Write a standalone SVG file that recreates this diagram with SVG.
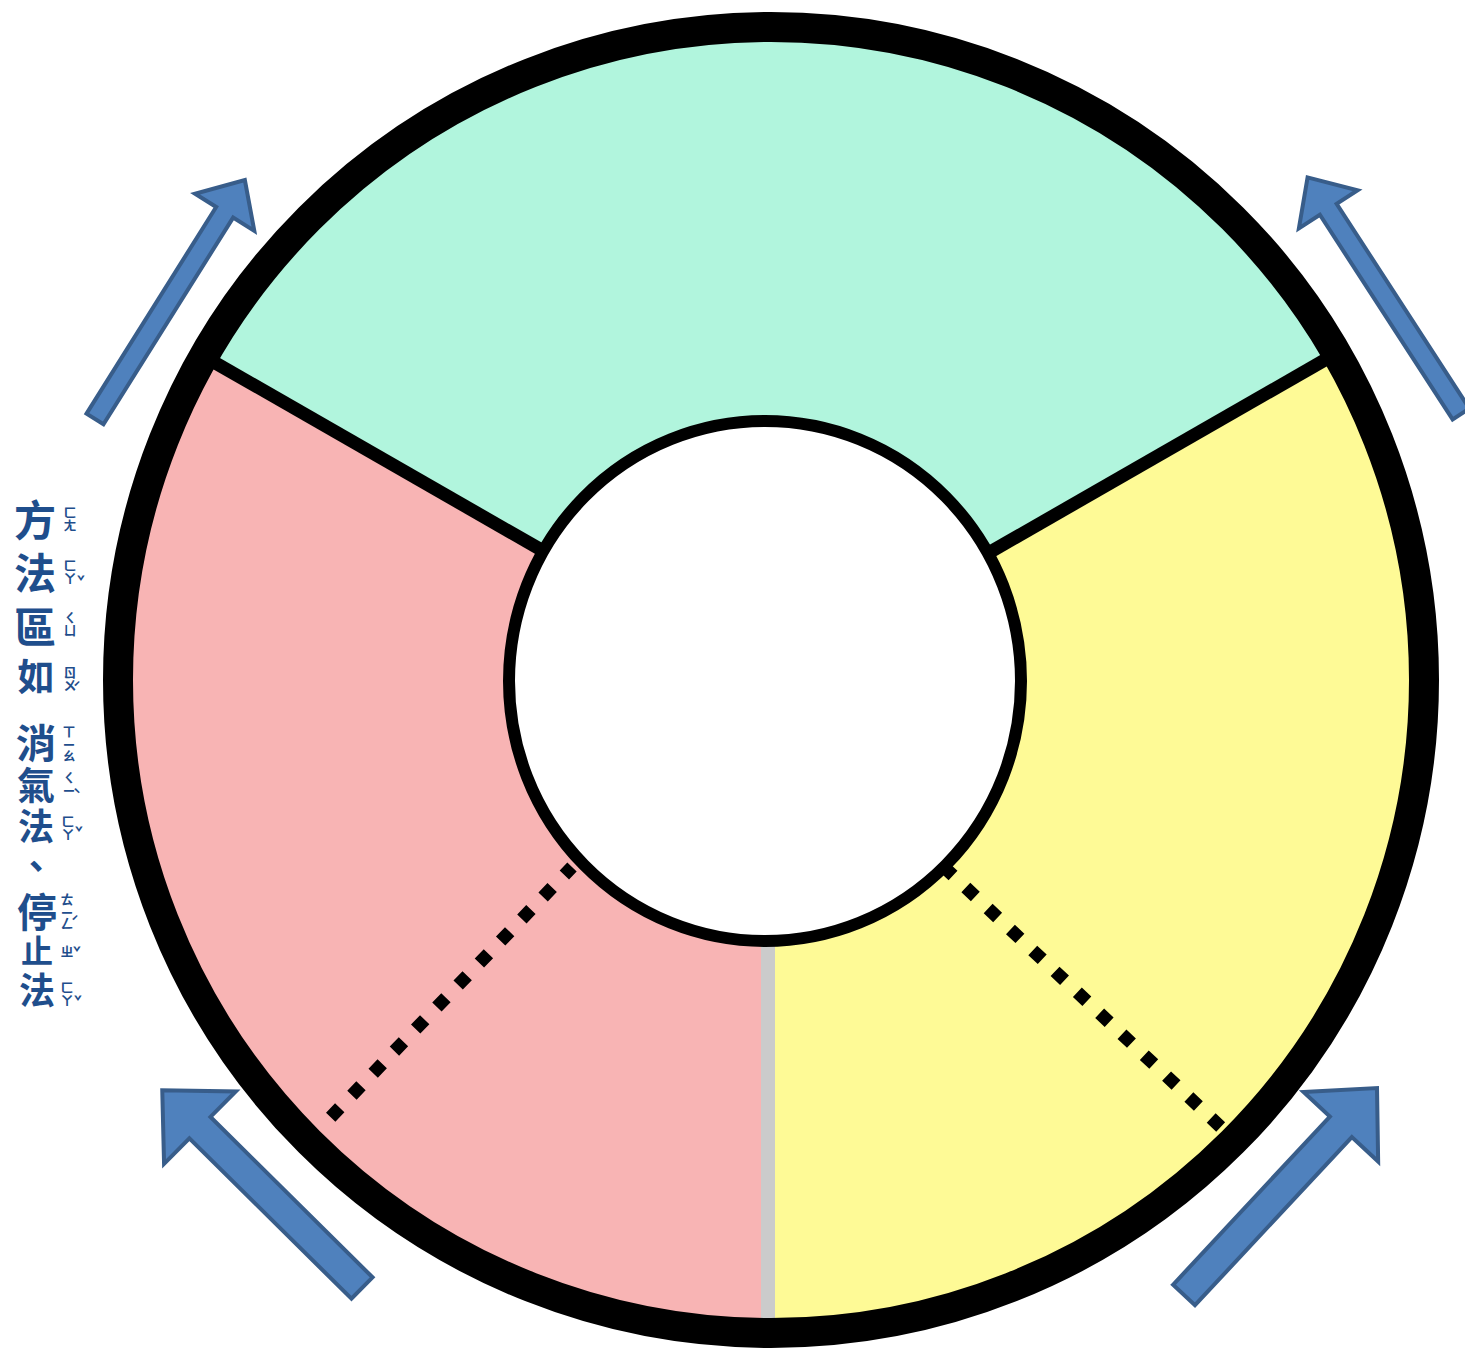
<svg xmlns="http://www.w3.org/2000/svg" width="1465" height="1351" viewBox="0 0 1465 1351">
<style>
.arrow{fill:#4f81bd;stroke:#385d8a;stroke-width:4;stroke-linejoin:miter}
.div{stroke:#000;stroke-width:13;fill:none}
.dot{stroke:#000;stroke-width:13;fill:none;stroke-dasharray:13 17.6}
.big{font-family:"Noto Sans CJK TC","Noto Sans CJK SC",sans-serif;font-size:42px;font-weight:700;fill:#1f4e8c;text-anchor:middle}
.bpm{font-family:"Noto Sans CJK TC","Noto Sans CJK SC",sans-serif;font-size:13px;font-weight:700;fill:#1f4e8c;writing-mode:vertical-rl;text-anchor:start}
.tone{font-family:"Noto Sans CJK TC","Noto Sans CJK SC",sans-serif;font-size:13px;font-weight:700;fill:#1f4e8c;text-anchor:middle}
</style>
<rect width="1465" height="1351" fill="#fff"/>
<g id="wheel">
<path id="green" d="M770,680 L197,353 A660,660 0 0 1 1343,353 Z" fill="#b1f5dd"/>
<path id="pink" d="M770,680 L770,1340 A660,660 0 0 1 197,353 Z" fill="#f8b4b4"/>
<path id="yellow" d="M770,680 L1343,353 A660,660 0 0 1 770,1340 Z" fill="#fefa96"/>
<line x1="768" y1="930" x2="768" y2="1335" stroke="#cbcbcb" stroke-width="14"/>
</g>
<g id="connectors">
<line class="div" x1="205" y1="357" x2="545" y2="552"/>
<line class="div" x1="1330" y1="357" x2="985" y2="555"/>
<line class="dot" x1="572" y1="867" x2="328" y2="1120" stroke-dashoffset="2"/>
<line class="dot" x1="945" y1="868" x2="1225" y2="1131" stroke-dashoffset="2"/>
</g>
<g id="rings">
<ellipse cx="765" cy="681" rx="256" ry="260" fill="#fff" stroke="#000" stroke-width="12"/>
<circle cx="771" cy="680" r="653" fill="none" stroke="#000" stroke-width="30"/>
</g>
<g id="arrows">
<polygon class="arrow" transform="translate(95,419) rotate(-57.9)" points="0,-10 244,-10 244,-35 282,0 244,35 244,10 0,10"/>
<polygon class="arrow" transform="translate(1461,414) rotate(-122.96)" points="0,-10 244,-10 244,-35 282,0 244,35 244,10 0,10"/>
<polygon class="arrow" transform="translate(362,1288) rotate(-135.3)" points="0,-15 228,-15 228,-51 281,0 228,51 228,15 0,15"/>
<polygon class="arrow" transform="translate(1184,1295) rotate(-47)" points="0,-15 230,-15 230,-51 283,0 230,51 230,15 0,15"/>
</g>
<g id="label">
<text class="big" x="35" y="536">方</text>
<text class="big" x="35" y="589">法</text>
<text class="big" x="35" y="643">區</text>
<text class="big" x="36" y="691" style="font-size:37px">如</text>
<text class="big" x="36" y="758" style="font-size:40px">消</text>
<text class="big" x="36" y="799" style="font-size:38px">氣</text>
<text class="big" x="36" y="840" style="font-size:36px">法</text>
<text class="big" x="36" y="880" style="font-size:36px">、</text>
<text class="big" x="37" y="927" style="font-size:40px">停</text>
<text class="big" x="37" y="963" style="font-size:32px">止</text>
<text class="big" x="37" y="1004" style="font-size:36px">法</text>
<text class="bpm" x="70" y="506">ㄈㄤ</text>
<text class="bpm" x="70" y="559">ㄈㄚ</text>
<text class="tone" x="81" y="586">ˇ</text>
<text class="bpm" x="70" y="611">ㄑㄩ</text>
<text class="bpm" x="70" y="666">ㄖㄨ</text>
<text class="tone" x="77" y="692">ˊ</text>
<text class="bpm" x="69" y="725">ㄒㄧㄠ</text>
<text class="bpm" x="69" y="771">ㄑㄧ</text>
<text class="tone" x="77" y="799">ˋ</text>
<text class="bpm" x="68" y="815">ㄈㄚ</text>
<text class="tone" x="79" y="837">ˇ</text>
<text class="bpm" x="67" y="893">ㄊㄧㄥ</text>
<text class="tone" x="75" y="926">ˊ</text>
<text class="bpm" x="67" y="945">ㄓ</text>
<text class="tone" x="77" y="957">ˇ</text>
<text class="bpm" x="67" y="981">ㄈㄚ</text>
<text class="tone" x="78" y="1006">ˇ</text>
</g>
</svg>
